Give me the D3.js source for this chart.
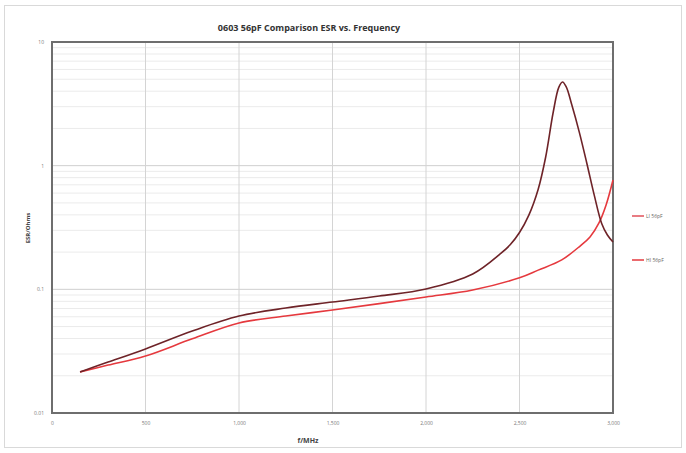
<!DOCTYPE html>
<html>
<head>
<meta charset="utf-8">
<script src="https://cdn.jsdelivr.net/npm/d3@7"></script>
<style>
  body { margin: 0; background: #fff; }
  text { font-family: "Open Sans", "Liberation Sans", sans-serif; }
</style>
</head>
<body>
<div id="chart"></div>
<script>
// frequency in MHz, ESR in Ohms
var freqDark = [150, 300, 500, 750, 1000, 1250, 1500, 1750, 2000, 2250, 2400, 2450, 2500, 2550, 2600, 2640, 2680, 2710, 2730, 2750, 2780, 2820, 2860, 2900, 2940, 2970, 3000];
var esrDark  = [0.0215, 0.0258, 0.033, 0.046, 0.0608, 0.0706, 0.079, 0.0883, 0.1007, 0.133, 0.195, 0.229, 0.288, 0.398, 0.645, 1.175, 2.69, 4.3, 4.75, 4.33, 3.09, 1.86, 1.047, 0.575, 0.339, 0.275, 0.2415];

var freqRed = [150, 300, 500, 750, 1000, 1250, 1500, 1750, 2000, 2250, 2500, 2600, 2726, 2824, 2877, 2925, 2963, 3000];
var esrRed  = [0.0215, 0.0244, 0.0289, 0.0398, 0.0535, 0.0608, 0.068, 0.0766, 0.0867, 0.0987, 0.124, 0.143, 0.173, 0.224, 0.265, 0.344, 0.481, 0.766];

var seriesNames = ["LI 56pF", "HI 56pF"];
var xTicks = [0, 500, 1000, 1500, 2000, 2500, 3000];
var yTicks = [0.01, 0.1, 1, 10];

var W = 686, H = 453;
var margin = {top: 42, right: 73, bottom: 40, left: 52};
var width = W - margin.left - margin.right,
    height = H - margin.top - margin.bottom;

var root = d3.select("#chart").append("svg")
    .attr("width", W)
    .attr("height", H);

// chart area border
root.append("rect")
    .attr("x", 4.5).attr("y", 5.5)
    .attr("width", W - 9).attr("height", H - 11)
    .attr("fill", "#fff")
    .attr("stroke", "#d9d9d9");

var svg = root.append("g")
    .attr("transform", `translate(${margin.left},${margin.top})`);

var xscale = d3.scaleLinear().domain([0, 3000]).range([0, width]);
var yscale = d3.scaleLog().domain([0.01, 10]).range([height, 0]);

// minor log gridlines
var minor = [];
[0.01, 0.1, 1].forEach(function(d) {
    for (var k = 2; k <= 9; k++) minor.push(d * k);
});
svg.selectAll(".minor")
    .data(minor)
    .join("line")
    .attr("x1", 0).attr("x2", width)
    .attr("y1", d => yscale(d)).attr("y2", d => yscale(d))
    .attr("stroke", "#ebebeb");

// major gridlines
svg.selectAll(".hmajor")
    .data(yTicks)
    .join("line")
    .attr("x1", 0).attr("x2", width)
    .attr("y1", d => yscale(d)).attr("y2", d => yscale(d))
    .attr("stroke", "#cfcfcf");

svg.selectAll(".vmajor")
    .data(xTicks)
    .join("line")
    .attr("y1", 0).attr("y2", height)
    .attr("x1", d => xscale(d)).attr("x2", d => xscale(d))
    .attr("stroke", "#d4d4d4");

// axes
var xAxis = d3.axisBottom(xscale).tickValues(xTicks).tickSize(0).tickPadding(8);
var yAxis = d3.axisLeft(yscale).tickValues(yTicks).tickFormat(d3.format("~g")).tickSize(0).tickPadding(8);

var gx = svg.append("g").attr("transform", `translate(0,${height})`).call(xAxis);
var gy = svg.append("g").call(yAxis);
[gx, gy].forEach(function(g) {
    g.select(".domain").remove();
    g.selectAll("text").attr("fill", "#777").style("font-size", "5px");
});

// plot border
svg.append("rect")
    .attr("width", width).attr("height", height)
    .attr("fill", "none")
    .attr("stroke", "#6e6e6e")
    .attr("stroke-width", 2);

// lines
var line = d3.line()
    .x(d => xscale(d[0]))
    .y(d => yscale(d[1]))
    .curve(d3.curveCatmullRom.alpha(0.5));

var dataRed = freqRed.map((f, i) => [f, esrRed[i]]);
var dataDark = freqDark.map((f, i) => [f, esrDark[i]]);

svg.append("path").datum(dataRed)
    .attr("d", line)
    .attr("fill", "none")
    .attr("stroke", "#e5393e")
    .attr("stroke-width", 1.6);

svg.append("path").datum(dataDark)
    .attr("d", line)
    .attr("fill", "none")
    .attr("stroke", "#6e2328")
    .attr("stroke-width", 1.6);

// title
root.append("text")
    .attr("x", 309).attr("y", 31)
    .attr("text-anchor", "middle")
    .style("font-size", "9px")
    .style("font-weight", "bold")
    .attr("fill", "#333")
    .text("0603 56pF Comparison ESR vs. Frequency");

// axis labels
root.append("text")
    .attr("x", 308).attr("y", 443)
    .attr("text-anchor", "middle")
    .style("font-size", "7px")
    .style("font-weight", "bold")
    .attr("fill", "#444")
    .text("f/MHz");

root.append("text")
    .attr("transform", "translate(30,228) rotate(-90)")
    .attr("text-anchor", "middle")
    .style("font-size", "6px")
    .style("font-weight", "bold")
    .attr("fill", "#444")
    .text("ESR/Ohms");

// legend
var legColors = ["#e0505a", "#e5393e"];
var leg = root.selectAll(".leg")
    .data(seriesNames)
    .join("g")
    .attr("transform", (d, i) => `translate(632,${216 + i * 44})`);
leg.append("line")
    .attr("x1", 0).attr("x2", 12)
    .attr("stroke", (d, i) => legColors[i])
    .attr("stroke-width", 1.5);
leg.append("text")
    .attr("x", 14).attr("y", 2)
    .style("font-size", "5px")
    .attr("fill", "#666")
    .text(d => d);
</script>
</body>
</html>
